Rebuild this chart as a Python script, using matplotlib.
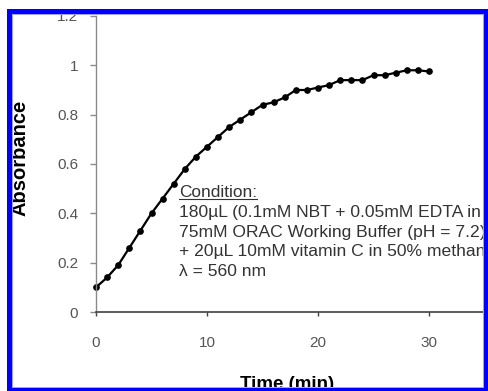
import matplotlib
matplotlib.use("Agg")
import matplotlib.pyplot as plt
from matplotlib.patches import Rectangle
from matplotlib.lines import Line2D

plt.rcParams['font.family'] = ['Liberation Sans', 'DejaVu Sans']

# data
time_min = list(range(0, 31))
absorbance = [0.10, 0.14, 0.19, 0.26, 0.33, 0.40, 0.46, 0.52, 0.58, 0.63,
              0.67, 0.71, 0.75, 0.78, 0.81, 0.84, 0.85, 0.87, 0.90, 0.90,
              0.91, 0.92, 0.94, 0.94, 0.94, 0.96, 0.96, 0.97, 0.98, 0.98,
              0.975]
x_ticks = [0, 10, 20, 30]
y_ticks = [0, 0.2, 0.4, 0.6, 0.8, 1.0, 1.2]
y_ticklabels = ['0', '0.2', '0.4', '0.6', '0.8', '1', '1.2']
note_lines = ['180\u00b5L (0.1mM NBT + 0.05mM EDTA in',
              '75mM ORAC Working Buffer (pH = 7.2)',
              '+ 20\u00b5L 10mM vitamin C in 50% methanol',
              '\u03bb = 560 nm']

W, H = 488, 391
fig = plt.figure(figsize=(W / 100, H / 100), dpi=100)


def fx(px):
    return px / W


def fy(py):
    return 1 - py / H


# axes: x 0 at px 96, 11.1 px/min ; y 0 at px 312, 1.2 at px 16
ax = fig.add_axes([fx(96), fy(312), 444 / W, 296 / H])
ax.plot(time_min, absorbance, color='black', lw=1.6, marker='o',
        markersize=3.8, clip_on=False)
ax.set_xlim(0, 40)
ax.set_ylim(0, 1.2)
ax.set_xticks(x_ticks)
ax.set_yticks(y_ticks)
ax.set_yticklabels(y_ticklabels)

for s in ['top', 'right']:
    ax.spines[s].set_visible(False)
ax.spines['left'].set_color('#8a8a8a')
ax.spines['bottom'].set_color('#404040')
ax.spines['left'].set_linewidth(1.0)
ax.spines['bottom'].set_linewidth(1.2)
ax.tick_params(axis='y', direction='out', length=4.3, width=1.0,
               color='#8a8a8a', pad=8.5, labelsize=11, labelcolor='#555555')
ax.tick_params(axis='x', direction='out', length=3, width=1.0,
               color='#404040', pad=14, labelsize=11, labelcolor='#555555')

# axis titles
fig.text(fx(20), fy(158), 'Absorbance', rotation=90, ha='center',
         va='center', fontsize=14.5, fontweight='bold')
fig.text(fx(287), fy(376), 'Time (min)', ha='center', va='top',
         fontsize=13.5, fontweight='bold')

# condition note
x0 = 179
cond = fig.text(fx(x0), fy(197), 'Condition:', ha='left', va='baseline',
                fontsize=12.4, color='#333333')
for i, line in enumerate(note_lines):
    fig.text(fx(x0), fy(217 + 19.5 * i), line, ha='left', va='baseline',
             fontsize=12.6, color='#333333')

fig.canvas.draw()
bb = cond.get_window_extent(fig.canvas.get_renderer())
fig.add_artist(Line2D([fx(x0), bb.x1 / W], [fy(199.5), fy(199.5)],
                      transform=fig.transFigure, color='#333333', lw=0.8))

# blue frame round the crop


def frame(x0, y0, x1, y1, color):
    fig.add_artist(Rectangle((fx(x0), fy(y1)), (x1 - x0) / W, (y1 - y0) / H,
                             transform=fig.transFigure, facecolor=color,
                             edgecolor='none', zorder=20))


frame(7, 9, 488, 14, '#0000ff')
frame(12, 14, 483, 15, '#a0a0ff')
frame(7, 9, 12, 391, '#0000ff')
frame(12, 14, 13, 388, '#a0a0ff')
frame(483.5, 9, 488, 391, '#0000ff')
frame(482.5, 14, 483.5, 388, '#a0a0ff')
frame(7, 388, 488, 391, '#0000ff')
frame(12, 387, 483, 388, '#a0a0ff')

fig.savefig('out.png', dpi=100)
